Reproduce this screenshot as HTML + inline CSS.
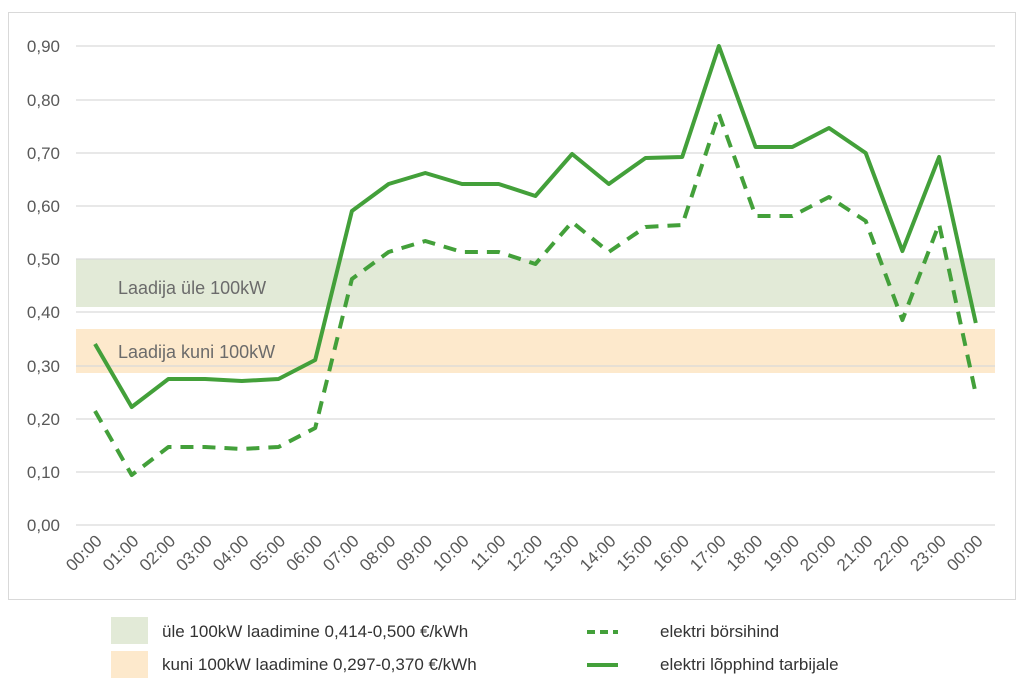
<!DOCTYPE html><html><head><style>body{margin:0;background:#fff}svg{display:block;font-family:"Liberation Sans",sans-serif}</style></head><body>
<svg width="1024" height="692" viewBox="0 0 1024 692">
<rect x="8.5" y="12.5" width="1007" height="587" fill="#fff" stroke="#d9d9d9"/>
<rect x="76" y="259" width="919" height="48" fill="#e2ead7"/>
<rect x="76" y="329" width="919" height="44" fill="#fde9cc"/>
<g stroke="#d9d9d9" stroke-width="1.2">
<line x1="76" x2="995" y1="46" y2="46"/><line x1="76" x2="995" y1="100" y2="100"/><line x1="76" x2="995" y1="153" y2="153"/><line x1="76" x2="995" y1="206" y2="206"/><line x1="76" x2="995" y1="259" y2="259"/><line x1="76" x2="995" y1="312" y2="312"/><line x1="76" x2="995" y1="366" y2="366"/><line x1="76" x2="995" y1="419" y2="419"/><line x1="76" x2="995" y1="472" y2="472"/><line x1="76" x2="995" y1="525" y2="525"/></g>
<g fill="#595959" font-size="17" text-anchor="end">
<text x="60" y="52">0,90</text><text x="60" y="106">0,80</text><text x="60" y="159">0,70</text><text x="60" y="212">0,60</text><text x="60" y="265">0,50</text><text x="60" y="318">0,40</text><text x="60" y="372">0,30</text><text x="60" y="425">0,20</text><text x="60" y="478">0,10</text><text x="60" y="531">0,00</text></g>
<g fill="#6b6b6b" font-size="18"><text x="118" y="294">Laadija üle 100kW</text><text x="118" y="358">Laadija kuni 100kW</text></g>
<polyline fill="none" stroke="#43a03a" stroke-width="4" stroke-linejoin="round" points="95,344 131.7,407 168.4,379 205.1,379 241.8,381 278.5,379 315.2,360 351.9,211 388.6,184 425.3,173 462,184 498.7,184 535.4,196 572.1,154 608.8,184 645.5,158 682.2,157 718.9,46 755.6,147 792.3,147 829,128 865.7,153 902.4,251 939.1,157 975.8,323"/>
<polyline fill="none" stroke="#43a03a" stroke-width="4" stroke-dasharray="13,9" stroke-linejoin="round" points="95,411 131.7,475 168.4,447 205.1,447 241.8,449 278.5,447 315.2,428 351.9,279 388.6,252 425.3,241 462,252 498.7,252 535.4,264 572.1,222 608.8,252 645.5,227 682.2,225 718.9,114 755.6,216 792.3,216 829,197 865.7,221 902.4,320 939.1,224 975.8,394"/>
<g fill="#595959" font-size="17" text-anchor="end">
<text transform="translate(103,542) rotate(-45)">00:00</text><text transform="translate(139.7,542) rotate(-45)">01:00</text><text transform="translate(176.4,542) rotate(-45)">02:00</text><text transform="translate(213.1,542) rotate(-45)">03:00</text><text transform="translate(249.8,542) rotate(-45)">04:00</text><text transform="translate(286.5,542) rotate(-45)">05:00</text><text transform="translate(323.2,542) rotate(-45)">06:00</text><text transform="translate(359.9,542) rotate(-45)">07:00</text><text transform="translate(396.6,542) rotate(-45)">08:00</text><text transform="translate(433.3,542) rotate(-45)">09:00</text><text transform="translate(470,542) rotate(-45)">10:00</text><text transform="translate(506.7,542) rotate(-45)">11:00</text><text transform="translate(543.4,542) rotate(-45)">12:00</text><text transform="translate(580.1,542) rotate(-45)">13:00</text><text transform="translate(616.8,542) rotate(-45)">14:00</text><text transform="translate(653.5,542) rotate(-45)">15:00</text><text transform="translate(690.2,542) rotate(-45)">16:00</text><text transform="translate(726.9,542) rotate(-45)">17:00</text><text transform="translate(763.6,542) rotate(-45)">18:00</text><text transform="translate(800.3,542) rotate(-45)">19:00</text><text transform="translate(837,542) rotate(-45)">20:00</text><text transform="translate(873.7,542) rotate(-45)">21:00</text><text transform="translate(910.4,542) rotate(-45)">22:00</text><text transform="translate(947.1,542) rotate(-45)">23:00</text><text transform="translate(983.8,542) rotate(-45)">00:00</text></g>
<rect x="111" y="617" width="37" height="27" fill="#e2ead7"/>
<rect x="111" y="651" width="37" height="27" fill="#fde9cc"/>
<g fill="#333" font-size="17"><text x="162" y="637">üle 100kW laadimine 0,414-0,500 €/kWh</text><text x="162" y="670">kuni 100kW laadimine 0,297-0,370 €/kWh</text><text x="660" y="637">elektri börsihind</text><text x="660" y="670">elektri lõpphind tarbijale</text></g>
<line x1="587" x2="618" y1="632" y2="632" stroke="#43a03a" stroke-width="4" stroke-dasharray="8,5"/>
<line x1="587" x2="618" y1="665" y2="665" stroke="#43a03a" stroke-width="4"/>
</svg></body></html>
